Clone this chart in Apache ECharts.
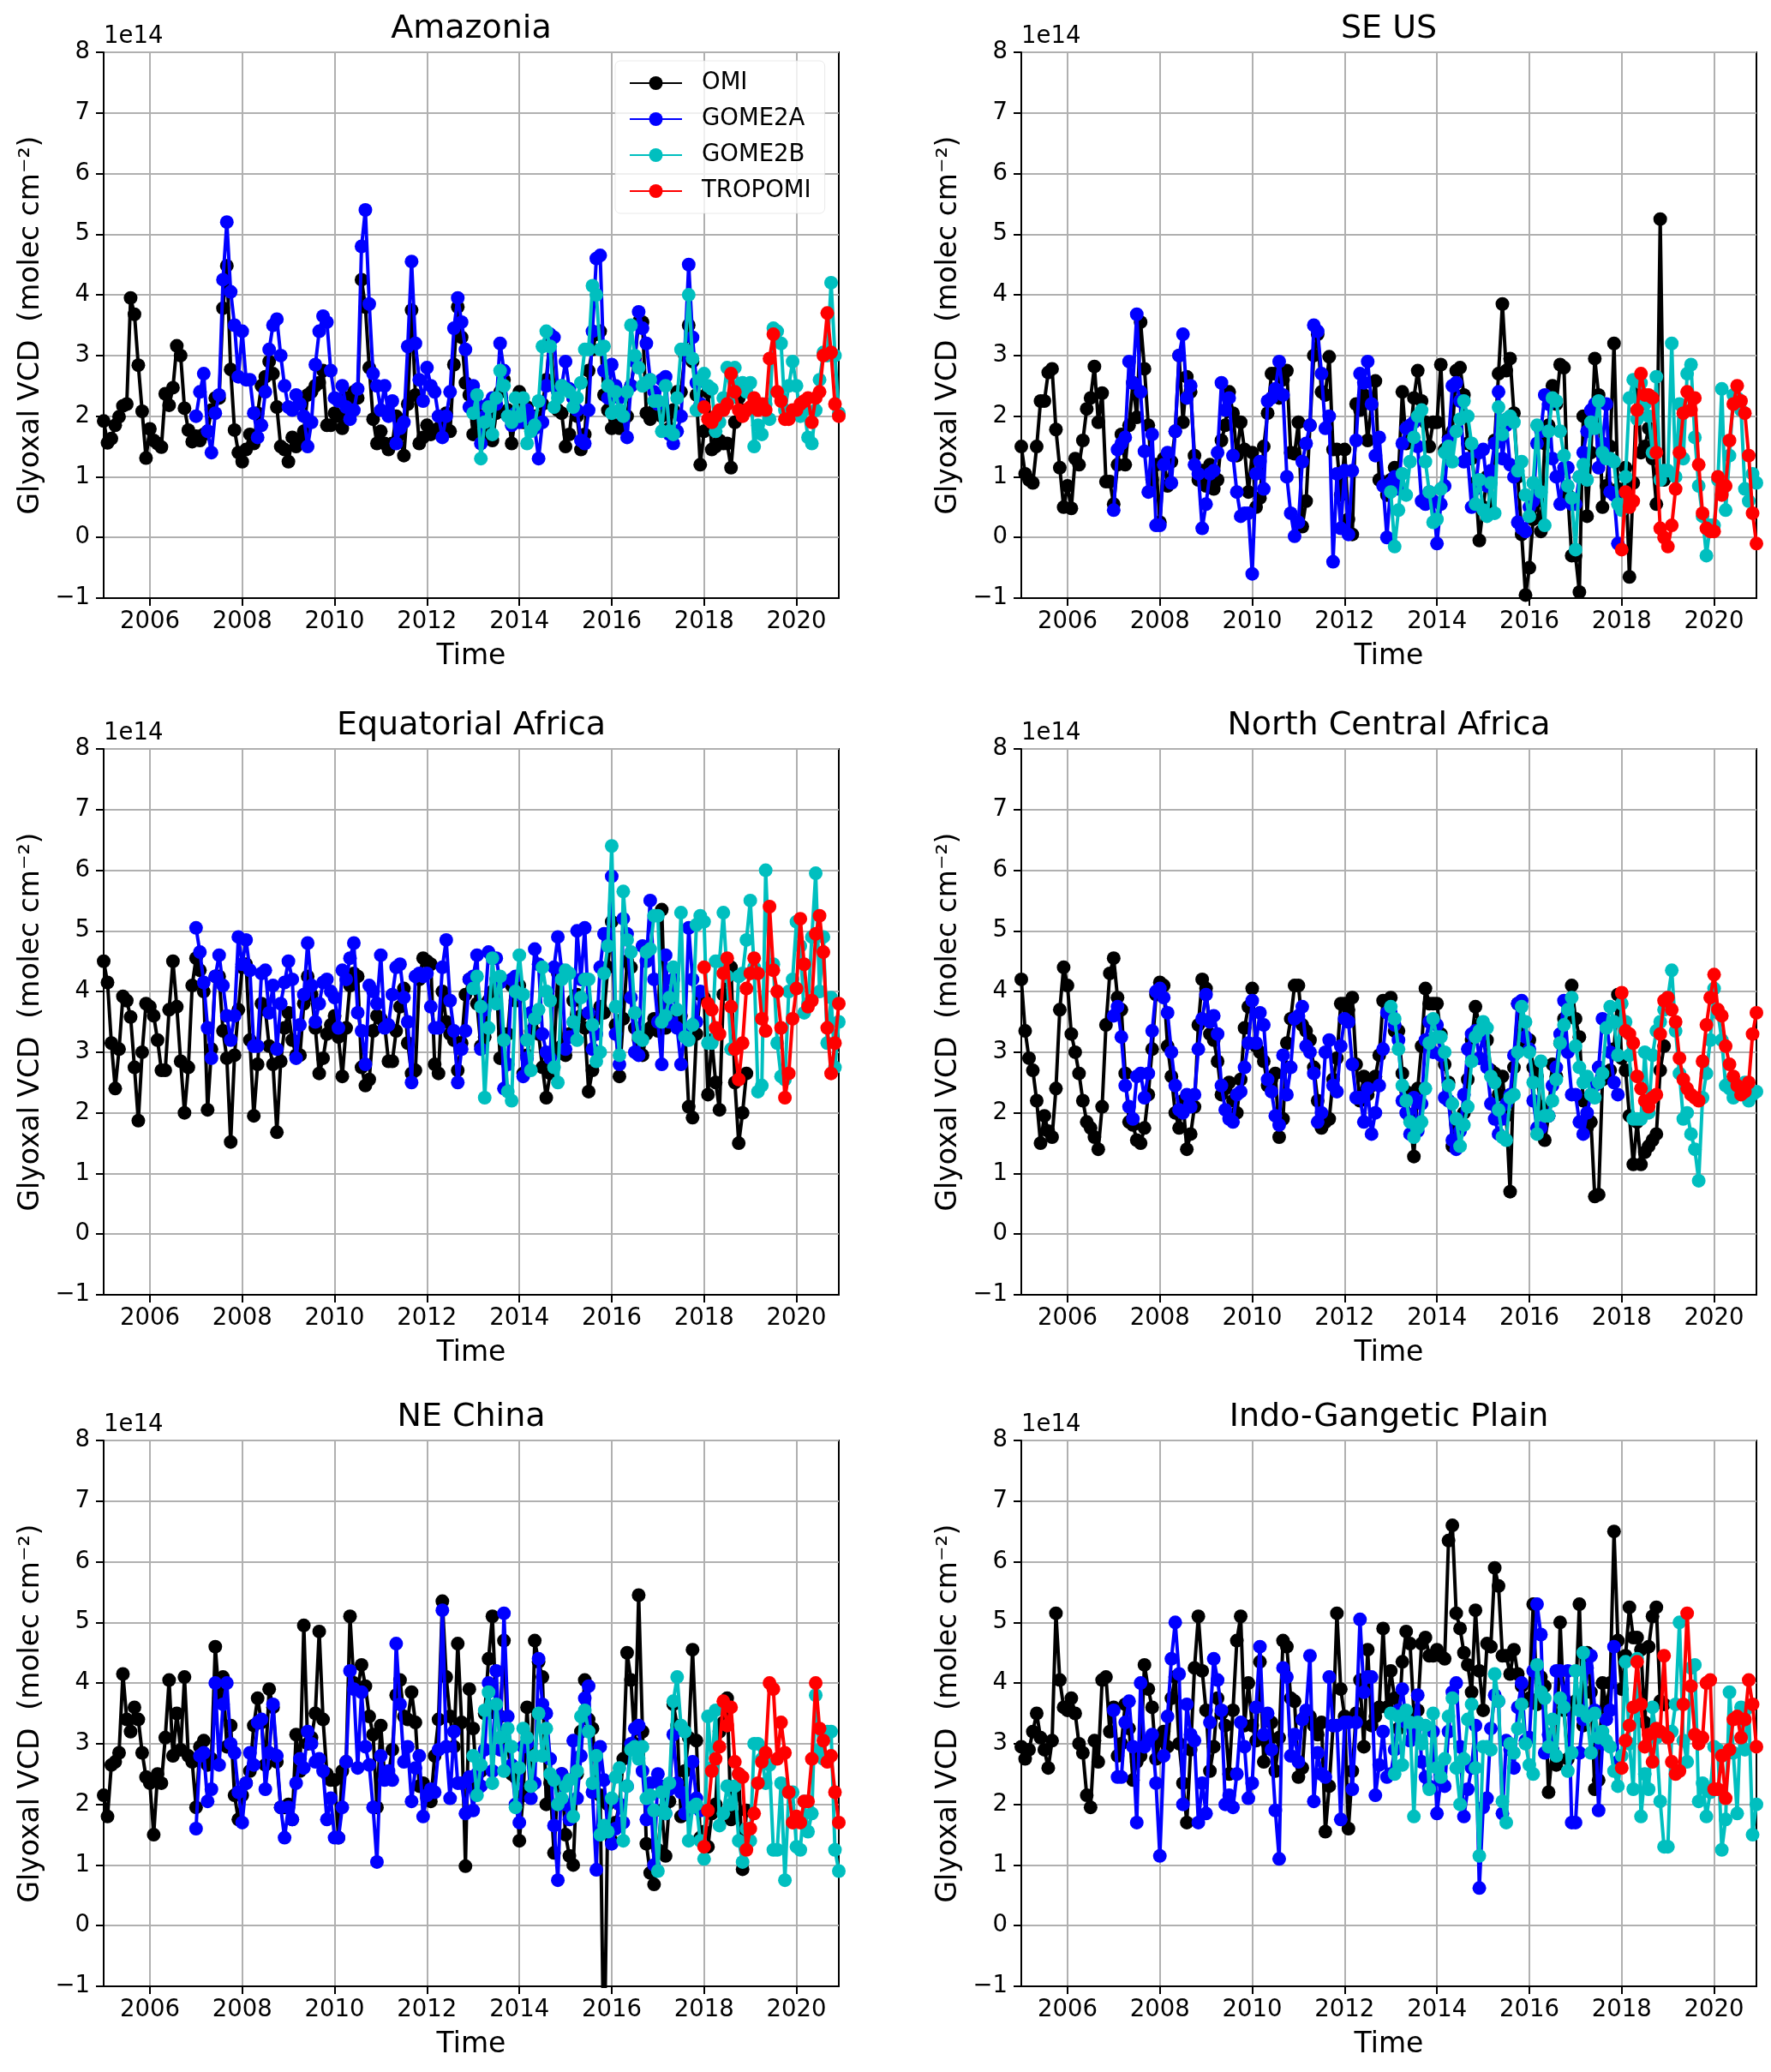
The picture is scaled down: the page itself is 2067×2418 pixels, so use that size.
<!DOCTYPE html>
<html>
<head>
<meta charset="utf-8">
<script src="https://cdn.jsdelivr.net/npm/echarts@6/dist/echarts.min.js"></script>
<style>
  html, body { margin: 0; padding: 0; background: #fff; }
  #chart { width: 2067px; height: 2418px; }
</style>
</head>
<body>
<div id="chart"></div>
<script>
// glyoxal VCD, units of 1e14 molec cm-2, monthly values
// OMI 2005-2018, GOME2A 2007-2017, GOME2B 2013-2020, TROPOMI 2018-2020

const amazoniaOMI = [
  1.92, 1.56, 1.63, 1.85, 1.99, 2.17, 2.2, 3.95, 3.68, 2.84, 2.08, 1.31,
  1.79, 1.6, 1.55, 1.49, 2.37, 2.18, 2.47, 3.16, 3.0, 2.13, 1.77, 1.58,
  1.67, 1.6, 1.7, 1.75, 2.1, 2.3, 2.3, 3.78, 4.48, 2.77, 1.77, 1.4,
  1.25, 1.45, 1.7, 1.55, 2.05, 2.5, 2.65, 2.9, 2.7, 2.15, 1.5, 1.45,
  1.25, 1.65, 1.5, 1.6, 1.75, 2.35, 2.4, 2.5, 2.55, 2.75, 1.85, 1.85,
  2.05, 2.0, 1.8, 2.3, 2.3, 2.4, 2.3, 4.25, 3.8, 2.8, 1.95, 1.55,
  1.75, 1.55, 1.45, 1.55, 2.0, 1.7, 1.35, 2.2, 3.75, 2.35, 1.55, 1.65,
  1.85, 1.7, 1.75, 1.8, 1.9, 2.05, 1.75, 2.85, 3.8, 3.3, 2.55, 2.35,
  1.7, 1.9, 2.0, 1.8, 1.65, 1.6, 2.05, 2.4, 2.6, 2.1, 1.55, 2.0,
  2.4, 1.9, 2.15, 1.8, 2.0, 1.9, 2.2, 2.6, 3.3, 2.5, 2.1, 2.05,
  1.5, 1.7, 2.3, 2.0, 1.45, 1.7, 2.75, 3.1, 3.35, 3.4, 2.35, 2.1,
  1.8, 1.85, 1.8, 1.9, 2.0, 2.5, 2.95, 3.55, 3.55, 2.05, 1.95, 2.1,
  2.2, 2.0, 2.1, 1.8, 2.1, 2.4, 2.4, 3.0, 3.5, 2.9, 2.35, 1.2,
  1.75, 2.4, 1.45, 1.5, 1.6, 1.55, 1.55, 1.15, 1.9, 2.3, 2.1, 2.1
];
const amazoniaGOME2A = [
  2.0, 2.4, 2.7, 1.75, 1.4, 2.05, 2.35, 4.25, 5.2, 4.05, 3.5, 2.65,
  3.4, 2.6, 2.6, 2.05, 1.65, 1.85, 2.4, 3.1, 3.5, 3.6, 3.0, 2.5,
  2.15, 2.1, 2.35, 2.2, 2.0, 1.5, 1.9, 2.85, 3.4, 3.65, 3.55, 2.75,
  2.3, 2.25, 2.5, 2.15, 1.95, 2.1, 2.45, 4.8, 5.4, 3.85, 2.7, 2.5,
  2.1, 2.5, 2.0, 2.25, 1.55, 1.8, 1.9, 3.15, 4.55, 3.2, 2.6, 2.25,
  2.8, 2.5, 2.4, 2.0, 1.65, 2.0, 2.4, 3.45, 3.95, 3.55, 3.1, 2.15,
  2.5, 2.2, 1.55, 2.0, 2.2, 2.3, 2.2, 3.2, 2.75, 2.0, 1.85, 2.05,
  1.9, 1.95, 2.1, 2.0, 1.8, 1.3, 1.9, 2.5, 3.35, 3.3, 2.4, 2.5,
  2.9, 2.45, 2.3, 2.1, 1.6, 1.55, 2.1, 3.4, 4.6, 4.65, 2.75, 2.3,
  2.85, 2.5, 2.3, 2.0, 1.65, 2.5, 2.9, 3.72, 3.45, 3.2, 2.6, 2.4,
  2.2, 2.6, 2.65, 1.7, 1.55, 1.75, 2.0, 3.1, 4.5, 3.3, 2.55, 2.2
];
const amazoniaGOME2B = [
  2.05, 2.35, 1.3, 1.9, 2.15, 1.7, 2.3, 2.75, 2.5, 2.0, 1.9, 2.3,
  2.0, 2.3, 1.55, 1.75, 1.85, 2.25, 3.15, 3.4, 3.15, 2.15, 2.3, 2.5,
  2.45, 2.4, 2.15, 2.3, 2.55, 3.1, 3.1, 4.15, 4.0, 3.1, 3.15, 2.5,
  2.05, 2.4, 2.1, 2.0, 2.4, 3.5, 3.0, 2.8, 2.5, 2.55, 2.6, 2.25,
  2.25, 1.75, 2.5, 1.75, 1.7, 2.3, 3.1, 3.1, 4.0, 2.95, 2.1, 2.6,
  2.7, 2.5, 2.45, 1.75, 1.9, 2.3, 2.8, 2.3, 2.8, 2.5, 2.55, 2.4,
  2.55, 1.5, 1.85, 1.7, 2.2, 1.95, 3.45, 3.4, 3.2, 2.1, 2.5, 2.9,
  2.5, 2.0, 2.1, 1.65, 1.55, 2.1, 2.6, 3.05, 3.0, 4.2, 3.0, 2.05
];
const amazoniaTROPOMI = [
  2.15, 1.95, 1.9, 2.0, 2.1, 2.1, 2.2, 2.7, 2.4, 2.1, 2.0, 2.1,
  2.15, 2.3, 2.1, 2.2, 2.1, 2.95, 3.35, 2.4, 2.25, 1.95, 1.95, 2.1,
  2.1, 2.2, 2.25, 2.3, 1.9, 2.3, 2.4, 3.0, 3.7, 3.05, 2.2, 2.0
];

const seusOMI = [
  1.5, 1.05, 0.95, 0.9, 1.5, 2.25, 2.25, 2.72, 2.78, 1.78, 1.15, 0.5,
  0.85, 0.48, 1.3, 1.2, 1.6, 2.12, 2.3, 2.82, 1.9, 2.38, 0.92, 0.92,
  0.55, 1.2, 1.7, 1.2, 1.85, 2.55, 1.98, 3.55, 2.78, 1.85, 0.95, 1.2,
  0.25, 1.3, 0.85, 1.25, 1.75, 3.0, 1.9, 2.65, 2.4, 1.35, 0.95, 1.1,
  0.85, 1.2, 0.8, 0.95, 1.6, 1.85, 2.4, 2.05, 1.35, 1.9, 1.45, 0.75,
  1.4, 0.5, 0.65, 1.5, 2.05, 2.7, 2.7, 2.3, 2.6, 2.75, 1.4, 1.38,
  1.9, 0.18, 0.6, 1.85, 3.0, 3.35, 2.4, 2.35, 2.98, 1.45, 1.45, 0.7,
  1.45, 0.3, 0.05, 2.2, 2.1, 2.35, 1.6, 2.2, 2.58, 0.95, 0.9, 0.7,
  0.95, 1.15, 1.05, 2.4, 1.55, 1.65, 2.3, 2.75, 2.25, 1.9, 1.5, 1.9,
  1.9, 2.85, 1.45, 1.65, 1.75, 2.75, 2.8, 2.35, 1.55, 1.3, 0.9, -0.05,
  0.5, 1.0, 0.45, 1.6, 2.7, 3.85, 2.75, 2.95, 2.05, 1.0, 0.05, -0.95,
  -0.5, 0.3, 0.6, 0.1, 1.55, 1.85, 2.5, 2.2, 2.85, 2.8, 0.7, -0.3,
  -0.3, -0.9, 2.0, 0.35, 1.4, 2.95, 2.35, 0.5, 0.85, 1.5, 3.2, 0.8,
  0.7, 1.15, -0.65, 0.9, 2.55, 1.4, 1.5, 1.8, 1.3, 0.55, 5.25, 0.95
];
const seusGOME2A = [
  0.45, 1.45, 1.55, 1.65, 2.9, 2.55, 3.68, 2.4, 1.42, 0.75, 1.7, 0.2,
  0.2, 1.2, 1.4, 0.9, 1.75, 3.0, 3.35, 2.3, 2.5, 1.2, 1.05, 0.15,
  0.55, 1.05, 1.1, 1.4, 2.55, 2.1, 2.3, 1.35, 0.75, 0.35, 0.4, 0.4,
  -0.6, 1.05, 1.25, 0.8, 2.25, 2.3, 2.45, 2.9, 2.35, 1.0, 0.4, 0.02,
  0.25, 1.25, 1.55, 1.85, 3.5, 3.4, 2.7, 1.8, 2.0, -0.4, 1.05, 0.15,
  1.1, 0.05, 1.1, 1.6, 2.7, 2.55, 2.9, 2.2, 1.35, 1.65, 0.85, 0.0,
  0.9, 1.0, 0.8, 1.55, 1.8, 1.85, 1.9, 1.5, 0.6, 0.55, 0.75, 0.6,
  -0.1, 0.55, 0.85, 1.6, 2.5, 2.55, 2.25, 1.25, 1.3, 0.5, 0.8, 1.4,
  1.45, 0.85, 1.1, 1.55, 2.4, 1.3, 1.85, 1.2, 1.0, 0.25, 0.15, 0.1,
  0.5, 0.6, 1.55, 1.75, 2.35, 2.2, 1.3, 1.0, 0.55, 1.15, 1.15, 0.55,
  0.55, 1.0, 1.4, 1.75, 2.1, 2.2, 1.15, 1.55, 2.2, 0.75, 0.7, -0.1
];
const seusGOME2B = [
  0.75, -0.15, 0.45, 1.05, 0.7, 1.25, 1.65, 2.0, 2.1, 1.25, 0.75, 0.25,
  0.3, 0.8, 1.4, 1.5, 1.25, 1.75, 1.95, 2.25, 2.0, 1.55, 0.55, 0.95,
  0.45, 0.35, 0.9, 0.4, 2.15, 1.7, 1.95, 2.0, 1.9, 1.1, 1.25, 0.7,
  0.35, 0.9, 1.85, 0.75, 0.2, 1.75, 2.3, 2.25, 1.75, 1.35, 0.85, 0.65,
  -0.2, 1.0, 1.2, 0.95, 1.9, 1.8, 2.25, 1.4, 1.3, 1.3, 1.25, 0.55,
  0.45, 1.0, 2.3, 2.6, 1.95, 2.55, 2.2, 2.0, 1.4, 2.65, 0.95, 1.1,
  1.1, 3.2, 1.0, 2.2, 1.3, 2.7, 2.85, 1.65, 0.85, 0.35, -0.3, 0.2,
  0.2, 0.95, 2.45, 0.45, 1.35, 2.35, 2.3, 2.1, 0.8, 0.6, 1.05, 0.9
];
const seusTROPOMI = [
  -0.2, 0.75, 0.5, 0.6, 2.1, 2.7, 2.35, 2.35, 2.3, 1.4, 0.15, 0.0,
  -0.15, 0.2, 0.8, 1.4, 2.05, 2.4, 2.1, 2.3, 1.2, 0.4, 0.15, 0.1,
  0.1, 1.0, 0.7, 0.85, 1.6, 2.2, 2.5, 2.25, 2.05, 1.35, 0.4, -0.1
];

const eqafricaOMI = [
  4.5, 4.15, 3.15, 2.4, 3.05, 3.92, 3.85, 3.58, 2.75, 1.87, 3.0, 3.8,
  3.75, 3.6, 3.2, 2.7, 2.7, 3.7, 4.5, 3.75, 2.85, 2.0, 2.75, 4.1,
  4.55, 4.35, 4.0, 2.05, 3.05, 4.25, 4.25, 3.35, 2.9, 1.52, 2.95, 3.7,
  4.4, 4.45, 3.2, 1.95, 2.8, 3.8, 3.7, 3.1, 2.8, 1.68, 2.85, 3.4,
  3.65, 3.2, 2.95, 2.95, 3.8, 4.25, 3.95, 3.4, 2.65, 2.9, 3.3, 3.45,
  3.6, 3.25, 2.6, 3.4, 4.1, 4.3, 4.25, 2.75, 2.45, 2.55, 3.35, 3.6,
  3.55, 3.45, 2.85, 2.85, 3.35, 3.75, 4.05, 3.15, 2.65, 2.7, 4.2, 4.55,
  4.5, 4.45, 2.8, 2.65, 4.0, 3.5, 3.3, 3.2, 2.7, 3.15, 3.95, 4.2,
  4.15, 3.8, 3.1, 3.25, 3.85, 4.0, 4.2, 2.9, 3.3, 3.3, 4.1, 3.85,
  4.1, 2.65, 2.95, 3.35, 3.55, 3.3, 2.75, 2.25, 2.65, 3.0, 4.3, 3.1,
  2.95, 3.3, 3.85, 3.95, 3.6, 3.4, 2.35, 2.7, 3.55, 3.75, 3.65, 4.4,
  5.15, 3.45, 2.6, 3.55, 4.5, 4.4, 3.4, 3.2, 2.95, 3.3, 3.4, 3.55,
  3.35, 5.35, 3.4, 3.5, 3.5, 3.55, 3.6, 3.35, 2.1, 1.92, 3.3, 3.95,
  3.9, 2.3, 3.2, 2.5, 2.05, 3.95, 4.3, 4.4, 2.5, 1.5, 2.0, 2.65
];
const eqafricaGOME2A = [
  5.05, 4.65, 4.15, 3.4, 2.9, 4.25, 4.6, 4.1, 3.6, 3.2, 3.6, 4.9,
  4.45, 4.85, 4.35, 3.1, 3.1, 4.3, 4.35, 3.65, 4.1, 3.05, 3.8, 4.15,
  4.5, 4.2, 2.9, 3.45, 3.95, 4.8, 4.1, 3.5, 3.8, 4.15, 4.2, 4.0,
  3.9, 3.4, 4.35, 4.2, 4.55, 4.8, 3.65, 3.35, 2.8, 4.1, 4.0, 3.8,
  4.6, 3.4, 3.45, 3.95, 4.4, 4.45, 3.9, 3.5, 2.5, 4.25, 4.3, 4.25,
  4.3, 3.75, 3.4, 3.4, 4.4, 4.85, 3.85, 3.35, 2.5, 3.05, 3.35, 4.2,
  4.25, 4.6, 3.05, 3.7, 4.65, 4.55, 4.55, 4.15, 2.4, 2.8, 4.2, 4.25,
  3.95, 2.6, 2.9, 3.65, 4.7, 4.45, 3.3, 3.0, 2.9, 4.4, 4.9, 4.35,
  3.05, 3.25, 3.25, 5.0, 4.2, 5.05, 3.65, 3.05, 3.3, 4.4, 4.95, 4.95,
  5.9, 3.3, 2.8, 5.2, 4.95, 3.9, 3.0, 2.95, 4.75, 4.5, 5.5, 4.2,
  3.5, 2.8, 4.6, 3.5, 4.2, 3.4, 2.8, 3.35, 5.05, 4.2, 3.5, 4.0
];
const eqafricaGOME2B = [
  4.05, 4.25, 3.75, 2.25, 3.4, 4.55, 3.8, 4.25, 3.2, 2.35, 2.2, 4.0,
  4.6, 3.95, 3.2, 2.7, 3.55, 3.7, 4.4, 4.0, 3.85, 2.75, 2.5, 4.2,
  4.35, 4.3, 3.5, 3.2, 3.9, 4.2, 4.2, 3.45, 2.85, 3.0, 4.3, 4.75,
  6.4, 3.75, 2.95, 5.65, 4.85, 4.65, 3.65, 3.25, 3.2, 4.65, 4.7, 5.25,
  5.25, 3.5, 3.6, 3.9, 4.4, 3.7, 5.3, 3.25, 3.2, 3.45, 5.1, 5.25,
  5.15, 3.15, 3.15, 4.5, 4.5, 5.3, 4.25, 3.05, 3.1, 4.25, 4.3, 4.85,
  5.5, 4.4, 2.35, 2.45, 6.0, 4.4, 4.45, 3.15, 2.6, 2.55, 4.0, 4.2,
  5.15, 4.75, 3.65, 3.8, 4.9, 5.95, 4.0, 4.9, 3.15, 3.9, 2.75, 3.5
];
const eqafricaTROPOMI = [
  4.4, 3.8, 3.7, 3.4, 3.3, 4.3, 4.55, 3.75, 3.05, 2.55, 3.15, 4.05,
  4.3, 4.55, 4.3, 3.55, 3.35, 5.4, 4.35, 4.0, 3.4, 2.25, 2.65, 3.55,
  4.05, 5.2, 4.45, 3.75, 3.85, 4.95, 5.25, 4.65, 3.4, 2.65, 3.15, 3.8
];

const ncafricaOMI = [
  4.2, 3.35, 2.9, 2.7, 2.2, 1.5, 1.95, 1.7, 1.6, 2.4, 3.7, 4.4,
  4.1, 3.3, 3.0, 2.65, 2.2, 1.85, 1.75, 1.6, 1.4, 2.1, 3.45, 4.3,
  4.55, 3.9, 3.7, 2.65, 1.85, 1.8, 1.55, 1.5, 1.75, 2.3, 3.05, 3.95,
  4.15, 4.1, 3.1, 2.6, 2.0, 1.75, 2.2, 1.4, 1.65, 2.1, 3.45, 4.2,
  4.05, 3.3, 3.2, 2.85, 2.3, 2.4, 2.5, 2.2, 2.0, 2.55, 3.4, 3.75,
  4.05, 3.1, 3.0, 2.85, 2.45, 2.55, 2.65, 1.6, 1.9, 3.15, 3.55, 4.1,
  4.1, 3.45, 3.35, 3.2, 2.75, 2.2, 1.75, 1.85, 1.9, 2.55, 2.9, 3.8,
  3.8, 3.7, 3.9, 2.8, 2.2, 2.6, 2.3, 2.45, 2.6, 2.95, 3.85, 3.85,
  3.9, 3.35, 3.35, 2.65, 2.35, 1.9, 1.28, 2.4, 3.1, 4.05, 3.8, 3.8,
  3.8, 3.3, 2.8, 2.5, 1.45, 1.8, 1.75, 2.0, 2.55, 3.2, 3.75, 3.45,
  3.3, 3.2, 2.7, 2.65, 2.3, 2.6, 1.95, 0.7, 2.75, 3.8, 3.3, 3.1,
  3.2, 2.75, 2.6, 2.1, 1.55, 1.95, 2.8, 2.6, 3.15, 3.55, 3.85, 4.1,
  3.55, 3.25, 2.2, 1.75, 1.85, 0.62, 0.65, 2.55, 2.6, 2.7, 3.05, 3.95,
  2.9, 2.7, 1.95, 1.15, 1.85, 1.15, 1.35, 1.45, 1.55, 1.65, 2.7, 3.1
];
const ncafricaGOME2A = [
  3.6, 3.75, 3.25, 2.45, 2.1, 1.9, 2.6, 2.65, 2.25, 2.65, 3.35, 4.0,
  4.05, 3.9, 3.65, 3.0, 2.45, 2.05, 2.0, 2.3, 2.1, 2.3, 3.05, 3.55,
  3.95, 3.5, 3.6, 3.3, 2.45, 2.05, 1.9, 1.85, 2.3, 2.35, 2.75, 3.15,
  3.85, 3.15, 3.65, 3.45, 2.55, 2.35, 1.95, 1.8, 2.95, 2.3, 2.75, 3.55,
  3.6, 3.75, 3.1, 3.0, 2.65, 1.85, 2.0, 3.0, 3.2, 2.45, 2.35, 3.1,
  3.55, 3.5, 2.8, 2.25, 2.25, 1.85, 2.4, 1.65, 2.0, 2.45, 3.05, 3.65,
  3.65, 3.45, 3.2, 2.2, 2.0, 1.65, 2.25, 1.7, 2.15, 3.2, 3.5, 3.0,
  3.45, 2.95, 2.25, 2.2, 1.55, 1.4, 1.7, 2.3, 3.05, 3.3, 3.35, 2.9,
  3.3, 2.75, 2.15, 1.9, 1.65, 1.9, 2.15, 2.3, 2.95, 3.8, 3.85, 3.25,
  3.05, 2.2, 1.75, 1.75, 1.95, 1.95, 2.45, 2.75, 3.3, 3.85, 3.0, 2.3,
  2.3, 1.85, 1.65, 2.0, 2.3, 2.45, 2.75, 3.55, 3.5, 3.0, 2.5, 2.3
];
const ncafricaGOME2B = [
  3.75, 3.55, 3.05, 2.45, 2.2, 1.85, 1.6, 1.75, 1.85, 2.4, 3.15, 3.55,
  3.25, 3.25, 3.0, 2.45, 2.15, 1.9, 1.45, 1.8, 2.1, 2.85, 3.25, 3.35,
  3.5, 3.4, 2.6, 2.5, 2.05, 1.6, 1.55, 2.25, 2.3, 3.0, 3.75, 3.5,
  3.0, 2.5, 1.65, 2.85, 1.95, 1.95, 2.2, 2.55, 3.15, 3.45, 3.7, 3.9,
  3.1, 2.75, 2.5, 2.6, 2.3, 2.25, 2.5, 2.65, 3.4, 3.75, 3.5, 2.95,
  3.8, 3.5, 2.95, 1.9, 1.9, 1.9, 3.0, 2.0, 2.95, 3.35, 3.5, 3.7,
  3.9, 4.35, 3.35, 2.65, 1.9, 2.0, 1.65, 1.4, 0.88, 2.25, 2.65, 3.2,
  4.05, 3.65, 3.2, 2.45, 2.4, 2.25, 2.3, 2.4, 2.5, 2.2, 2.3, 2.35
];
const ncafricaTROPOMI = [
  3.98, 3.35, 3.3, 3.15, 2.6, 2.4, 2.2, 2.1, 2.25, 2.3, 3.3, 3.85,
  3.9, 3.7, 3.5, 2.9, 2.55, 2.4, 2.3, 2.25, 2.2, 2.85, 3.45, 3.9,
  4.28, 3.7, 3.6, 3.1, 2.8, 2.6, 2.45, 2.3, 2.35, 2.5, 3.3, 3.65
];

const nechinaOMI = [
  2.15, 1.8, 2.65, 2.7, 2.85, 4.15, 3.4, 3.2, 3.6, 3.4, 2.85, 2.45,
  2.35, 1.5, 2.5, 2.35, 3.1, 4.05, 2.8, 3.5, 2.9, 4.1, 2.8, 2.7,
  1.95, 2.95, 3.05, 2.65, 2.75, 4.6, 3.75, 4.1, 2.95, 3.3, 2.15, 1.75,
  2.15, 2.35, 2.55, 3.3, 3.75, 3.35, 2.65, 3.9, 3.6, 2.7, 1.95, 1.95,
  2.0, 1.75, 3.15, 2.55, 4.95, 3.0, 3.1, 3.5, 4.85, 3.4, 2.5, 2.4,
  2.4, 1.45, 2.55, 2.7, 5.1, 4.0, 3.9, 4.3, 3.95, 3.45, 3.15, 1.95,
  3.3, 2.45, 2.5, 2.9, 3.8, 4.05, 3.45, 3.4, 3.85, 3.35, 2.3, 2.35,
  2.1, 2.05, 2.8, 3.4, 5.35, 4.1, 3.45, 2.95, 4.65, 3.35, 0.98, 3.9,
  3.25, 2.3, 2.55, 3.5, 4.4, 5.1, 3.5, 3.45, 4.7, 2.95, 2.5, 2.45,
  1.4, 2.15, 3.6, 2.3, 4.7, 4.35, 4.1, 2.0, 2.35, 1.2, 2.35, 2.5,
  1.5, 1.15, 1.0, 2.5, 3.2, 4.05, 3.4, 3.25, 2.4, 2.15, -2.5, 2.0,
  1.4, 1.7, 2.0, 2.75, 4.5, 4.05, 3.0, 5.45, 3.2, 1.35, 0.87, 0.68,
  1.25, 1.9, 1.15, 2.05, 3.65, 3.3, 1.8, 2.55, 3.1, 4.55, 3.05, 1.45,
  1.55, 1.3, 1.85, 2.0, 3.2, 3.35, 3.75, 1.75, 1.8, 2.5, 0.93, 1.9
];
const nechinaGOME2A = [
  1.6, 2.8, 2.85, 2.05, 2.25, 4.0, 2.65, 3.65, 4.0, 3.0, 2.85, 2.2,
  1.7, 2.35, 2.85, 2.65, 3.35, 3.4, 2.25, 2.85, 3.65, 2.8, 1.95, 1.45,
  1.95, 1.75, 2.35, 2.75, 2.6, 3.2, 3.0, 2.7, 2.75, 2.55, 1.75, 2.1,
  1.45, 1.45, 1.95, 2.7, 4.2, 3.9, 2.6, 3.85, 2.95, 2.65, 1.95, 1.05,
  2.8, 2.4, 2.55, 2.4, 4.65, 3.65, 2.7, 2.95, 2.05, 2.6, 2.8, 1.8,
  2.15, 2.25, 2.2, 2.9, 5.2, 2.95, 2.1, 3.2, 2.35, 2.35, 1.85, 2.45,
  1.9, 2.5, 2.3, 2.9, 4.0, 2.55, 4.2, 2.9, 5.15, 3.45, 2.65, 2.0,
  1.7, 2.95, 3.0, 2.1, 2.35, 4.4, 3.65, 3.5, 2.75, 1.65, 0.75, 2.5,
  2.0, 1.75, 3.05, 2.1, 2.8, 3.75, 3.95, 2.2, 0.92, 2.95, 2.4, 1.55,
  1.35, 1.6, 2.0, 1.7, 2.3, 3.0, 3.25, 3.3, 2.55, 1.75, 2.35, 1.0,
  2.5, 2.3, 1.85, 2.25, 3.15, 2.35, 2.2, 1.85, 2.05, 2.7, 2.1, 1.9
];
const nechinaGOME2B = [
  2.8, 2.15, 2.65, 3.55, 3.85, 2.35, 3.65, 3.1, 2.55, 3.25, 2.95, 1.95,
  2.6, 3.25, 3.1, 2.3, 2.8, 3.5, 2.8, 3.25, 2.5, 2.4, 2.0, 2.1,
  2.3, 2.4, 1.8, 2.55, 3.45, 3.55, 3.2, 2.35, 2.8, 1.5, 1.65, 1.55,
  2.1, 2.45, 2.6, 1.4, 2.3, 2.9, 2.95, 2.75, 2.95, 2.1, 2.15, 1.9,
  0.9, 2.2, 1.85, 2.35, 3.7, 4.1, 3.3, 3.2, 1.4, 1.95, 2.0, 1.4,
  1.1, 3.45, 2.6, 3.55, 1.65, 1.85, 2.3, 2.0, 2.3, 1.4, 1.05, 1.6,
  1.4, 3.0, 3.0, 2.75, 2.35, 2.65, 1.25, 1.25, 2.35, 0.75, 2.2, 2.2,
  1.3, 1.25, 2.05, 1.55, 1.85, 3.8, 2.9, 2.75, 3.2, 3.2, 1.25, 0.9
];
const nechinaTROPOMI = [
  1.3, 1.9, 2.55, 2.75, 2.95, 3.7, 3.3, 3.6, 2.7, 2.5, 2.45, 1.25,
  1.6, 1.85, 2.35, 2.7, 2.85, 4.0, 3.9, 2.75, 3.35, 2.85, 2.2, 1.7,
  1.8, 1.7, 2.05, 2.05, 2.75, 4.0, 3.25, 3.05, 2.7, 2.8, 2.2, 1.7
];

const igpOMI = [
  2.95, 2.75, 2.9, 3.2, 3.5, 3.1, 2.9, 2.6, 3.05, 5.15, 4.05, 3.6,
  3.55, 3.75, 3.5, 3.0, 2.85, 2.15, 1.95, 3.05, 2.7, 4.05, 4.1, 3.2,
  3.6, 2.8, 3.0, 3.65, 3.25, 2.4, 2.7, 2.8, 4.3, 3.9, 3.6, 2.75,
  3.05, 3.2, 2.95, 3.75, 4.1, 3.0, 2.35, 1.7, 2.9, 4.25, 5.1, 4.2,
  3.55, 2.55, 2.95, 3.75, 3.5, 3.3, 2.5, 3.55, 4.7, 5.1, 3.3, 4.0,
  3.3, 3.05, 4.35, 2.7, 3.0, 3.35, 2.55, 3.1, 4.7, 4.6, 3.75, 3.7,
  2.45, 2.6, 3.5, 3.45, 3.3, 3.15, 3.35, 1.55, 2.3, 3.3, 5.15, 3.9,
  3.45, 1.6, 2.55, 3.5, 4.05, 2.95, 4.55, 3.3, 3.45, 3.6, 4.9, 3.6,
  4.2, 3.75, 3.25, 4.35, 4.85, 4.65, 3.5, 3.55, 4.65, 4.75, 4.45, 4.45,
  4.55, 4.45, 4.4, 6.35, 6.6, 5.15, 4.9, 4.5, 4.3, 3.85, 5.2, 4.2,
  3.55, 4.65, 4.6, 5.9, 5.6, 4.45, 4.45, 4.15, 4.55, 4.15, 3.95, 3.7,
  3.75, 5.3, 3.65, 4.1, 3.95, 2.2, 2.9, 2.65, 5.0, 3.55, 2.75, 3.65,
  3.7, 5.3, 3.3, 4.5, 3.85, 2.25, 2.4, 4.0, 3.6, 4.0, 6.5, 4.7,
  3.9, 4.45, 5.25, 4.75, 4.75, 4.55, 3.35, 4.6, 5.1, 5.25, 3.7, 3.65
];
const igpGOME2A = [
  3.55, 2.45, 2.45, 3.35, 3.7, 2.95, 1.7, 4.0, 2.95, 3.05, 3.15, 2.35,
  1.15, 2.8, 3.45, 4.4, 5.0, 4.15, 2.0, 3.65, 3.15, 3.05, 1.7, 2.35,
  1.85, 3.35, 4.4, 4.05, 3.55, 2.0, 2.15, 1.95, 2.5, 3.35, 2.95, 2.1,
  2.35, 3.6, 4.6, 3.15, 3.5, 2.9, 1.9, 1.1, 4.25, 4.1, 2.8, 3.15,
  2.7, 3.4, 3.55, 4.45, 2.05, 2.85, 2.5, 2.45, 4.1, 3.3, 3.3, 1.75,
  3.35, 3.35, 2.25, 3.35, 5.05, 3.85, 4.1, 4.1, 2.15, 2.65, 3.2, 2.45,
  2.5, 2.9, 3.55, 3.9, 3.35, 3.05, 3.2, 3.8, 2.7, 2.45, 2.3, 3.2,
  1.85, 2.4, 2.3, 3.2, 3.85, 4.0, 2.95, 1.8, 2.25, 2.6, 3.3, 0.62,
  1.95, 2.1, 3.25, 3.8, 3.7, 1.85, 3.05, 2.9, 2.6, 3.6, 4.0, 3.05,
  3.1, 4.2, 5.3, 4.8, 2.85, 3.15, 2.9, 4.2, 4.2, 3.75, 4.2, 1.7,
  1.7, 2.85, 3.4, 4.25, 4.45, 3.55, 1.9, 3.0, 3.4, 3.55, 4.6, 2.7
];
const igpGOME2B = [
  3.5, 2.5, 3.45, 2.65, 3.55, 3.35, 1.8, 3.35, 3.0, 3.3, 2.25, 3.5,
  2.6, 2.45, 2.75, 3.45, 3.75, 2.6, 2.0, 2.75, 3.4, 3.65, 2.6, 1.15,
  2.95, 2.95, 2.9, 4.15, 3.7, 2.05, 1.7, 3.0, 2.85, 3.25, 3.65, 3.0,
  2.65, 2.5, 4.3, 3.85, 3.75, 2.95, 3.4, 2.8, 3.75, 3.6, 2.55, 2.85,
  4.2, 3.55, 4.5, 3.45, 2.85, 3.5, 3.1, 3.2, 3.05, 2.95, 2.55, 2.3,
  2.8, 4.35, 3.0, 2.25, 4.4, 1.8, 2.5, 2.25, 3.6, 3.1, 2.05, 1.3,
  1.3, 3.2, 3.65, 5.0, 3.05, 2.7, 4.25, 4.3, 2.05, 2.35, 1.8, 2.2,
  2.95, 2.9, 1.25, 1.75, 3.85, 2.85, 1.85, 3.6, 2.9, 3.6, 1.5, 2.0
];
const igpTROPOMI = [
  2.6, 3.05, 3.3, 3.6, 4.35, 3.65, 2.95, 3.15, 2.7, 3.25, 3.2, 4.45,
  3.1, 2.7, 2.5, 2.55, 3.65, 5.15, 3.95, 3.15, 3.0, 3.1, 4.0, 4.05,
  2.25, 2.25, 2.8, 2.1, 2.9, 3.4, 3.45, 3.1, 3.4, 4.05, 3.65, 2.95
];

const regions = ['Amazonia', 'SE US', 'Equatorial Africa', 'North Central Africa', 'NE China', 'Indo-Gangetic Plain'];
const sensors = ['OMI', 'GOME2A', 'GOME2B', 'TROPOMI'];
const sensorStart = [2005, 2007, 2013, 2018];
const sensorColors = ['#000000', '#0000ff', '#00bfbf', '#ff0000'];
const panelData = [
  [amazoniaOMI, amazoniaGOME2A, amazoniaGOME2B, amazoniaTROPOMI],
  [seusOMI, seusGOME2A, seusGOME2B, seusTROPOMI],
  [eqafricaOMI, eqafricaGOME2A, eqafricaGOME2B, eqafricaTROPOMI],
  [ncafricaOMI, ncafricaGOME2A, ncafricaGOME2B, ncafricaTROPOMI],
  [nechinaOMI, nechinaGOME2A, nechinaGOME2B, nechinaTROPOMI],
  [igpOMI, igpGOME2A, igpGOME2B, igpTROPOMI]
];
const xTicks = [2006, 2008, 2010, 2012, 2014, 2016, 2018, 2020];
const xMin = 2005;
const xMax = 2020 + 11 / 12;
const yMin = -1;
const yMax = 8;

// layout of the 3x2 panels (pixels)
const colLeft = [121, 1192];
const rowTop = [61, 874, 1681];
const plotW = 858;
const plotH = 637;
const FONT = 'DejaVu Sans';

function monthly(start, values) {
  return values.map((v, i) => [start + i / 12, v]);
}

const chart = echarts.init(document.getElementById('chart'));

const grids = [], xAxes = [], yAxes = [], titles = [], series = [];

regions.forEach((region, p) => {
  const left = colLeft[p % 2];
  const top = rowTop[Math.floor(p / 2)];

  grids.push({
    left: left, top: top, width: plotW, height: plotH,
    show: true, borderColor: '#000', borderWidth: 2, backgroundColor: 'transparent'
  });

  xAxes.push({
    gridIndex: p, type: 'value', min: xMin, max: xMax,
    name: 'Time', nameLocation: 'middle', nameGap: 52,
    nameTextStyle: { fontFamily: FONT, fontSize: 33, color: '#000' },
    axisLine: { show: true, onZero: false, lineStyle: { color: '#000', width: 2 } },
    axisTick: { show: true, customValues: xTicks, length: 9, lineStyle: { color: '#000', width: 2 } },
    axisLabel: {
      customValues: xTicks, fontFamily: FONT, fontSize: 27.5, color: '#000', margin: 14,
      formatter: v => String(v)
    },
    splitLine: { show: true, lineStyle: { color: '#b0b0b0', width: 2 } }
  });

  yAxes.push({
    gridIndex: p, type: 'value', min: yMin, max: yMax, interval: 1,
    name: 'Glyoxal VCD  (molec cm\u207B\u00B2)', nameLocation: 'middle', nameRotate: 90, nameGap: 68,
    nameTextStyle: { fontFamily: FONT, fontSize: 33, color: '#000' },
    axisLine: { show: true, onZero: false, lineStyle: { color: '#000', width: 2 } },
    axisTick: { show: true, length: 9, lineStyle: { color: '#000', width: 2 } },
    axisLabel: {
      fontFamily: FONT, fontSize: 27.5, color: '#000', margin: 16,
      formatter: v => String(v).replace('-', '\u2212')
    },
    splitLine: { show: true, lineStyle: { color: '#b0b0b0', width: 2 } }
  });

  titles.push({
    text: region, left: left + plotW / 2, top: top - 47, textAlign: 'center', padding: 0,
    textStyle: { fontFamily: FONT, fontSize: 38, fontWeight: 'normal', color: '#000', lineHeight: 40 }
  });
  titles.push({
    text: '1e14', left: left, top: top - 32, padding: 0,
    textStyle: { fontFamily: FONT, fontSize: 27.5, fontWeight: 'normal', color: '#000', lineHeight: 28 }
  });

  sensors.forEach((s, k) => {
    series.push({
      name: s, type: 'line', xAxisIndex: p, yAxisIndex: p,
      data: monthly(sensorStart[k], panelData[p][k]),
      symbol: 'circle', symbolSize: 16, showAllSymbol: true, clip: true,
      lineStyle: { color: sensorColors[k], width: 4 },
      itemStyle: { color: sensorColors[k] },
      z: 3 + k,
      emphasis: { disabled: true }
    });
  });
});

chart.setOption({
  animation: false,
  backgroundColor: '#fff',
  title: titles,
  grid: grids,
  xAxis: xAxes,
  yAxis: yAxes,
  legend: {
    data: sensors, orient: 'vertical', left: 718, top: 71,
    padding: [12, 16, 12, 16], itemWidth: 61, itemHeight: 20, itemGap: 14,
    backgroundColor: 'rgba(255,255,255,0.8)', borderColor: 'rgba(220,220,220,0.6)',
    borderWidth: 1, borderRadius: 6,
    textStyle: { fontFamily: FONT, fontSize: 27.5, color: '#000', lineHeight: 28, padding: [0, 0, 0, 18] }
  },
  series: series
});
</script>
</body>
</html>
